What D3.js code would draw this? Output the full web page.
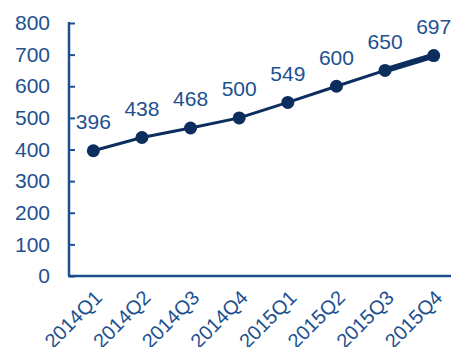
<!DOCTYPE html>
<html><head><meta charset="utf-8">
<script src="https://cdn.jsdelivr.net/npm/d3@7"></script>
<style>body{margin:0;background:#fff}svg{display:block}</style>
</head><body>
<script>
const categories = ["2014Q1","2014Q2","2014Q3","2014Q4","2015Q1","2015Q2","2015Q3","2015Q4"];
const values = [396,438,468,500,549,600,650,697];
const yTicks = [0,100,200,300,400,500,600,700,800];

const W=451,H=347;
const textColor="#1d5190", lineColor="#0b2e5e", axisColor="#1d4f8c";
const svg=d3.select("body").append("svg").attr("width",W).attr("height",H);
const x=d3.scaleBand().domain(categories).range([69,458]);
const y=d3.scaleLinear().domain([0,800]).range([276,23]);
const font="'Liberation Sans', Arial, sans-serif";

// y axis
const ya=svg.append("g").attr("transform","translate(69,0)")
  .call(d3.axisLeft(y).tickValues(yTicks).tickSize(-6).tickPadding(19));
ya.select(".domain").attr("stroke",axisColor).attr("stroke-width",2.5).attr("d","M0,22V276");
ya.selectAll(".tick line").attr("stroke",axisColor).attr("stroke-width",2);
ya.selectAll("text").attr("fill",textColor).style("font-family",font).style("font-size","21px");

// x axis
const xa=svg.append("g").attr("transform","translate(0,276)")
  .call(d3.axisBottom(x).tickSize(0).tickPadding(0));
xa.select(".domain").attr("stroke",axisColor).attr("stroke-width",2.5).attr("d","M68,0H451");
xa.selectAll("text").attr("fill",textColor).style("font-family",font).style("font-size","20px")
  .attr("text-anchor","end").attr("dy",0).attr("dx",0)
  .attr("transform","translate(10,23) rotate(-45)");

const cx=d=>x(d)+x.bandwidth()/2;
const line=d3.line().x((d,i)=>cx(categories[i])).y(d=>y(d));
svg.append("path").datum(values).attr("d",line).attr("fill","none")
  .attr("stroke",lineColor).attr("stroke-width",3);
// thicker last segment
svg.append("path").datum(values.slice(-2)).attr("d",d3.line().x((d,i)=>cx(categories[categories.length-2+i])).y(d=>y(d)))
  .attr("fill","none").attr("stroke",lineColor).attr("stroke-width",6);

svg.selectAll("circle.pt").data(values).join("circle").attr("class","pt")
  .attr("cx",(d,i)=>cx(categories[i])).attr("cy",d=>y(d)).attr("r",6.5).attr("fill",lineColor);

svg.selectAll("text.lbl").data(values).join("text").attr("class","lbl")
  .attr("x",(d,i)=>cx(categories[i])).attr("y",d=>y(d)-21.5)
  .attr("text-anchor","middle").attr("fill",textColor)
  .style("font-family",font).style("font-size","21px").text(d=>d);
</script>
</body></html>
